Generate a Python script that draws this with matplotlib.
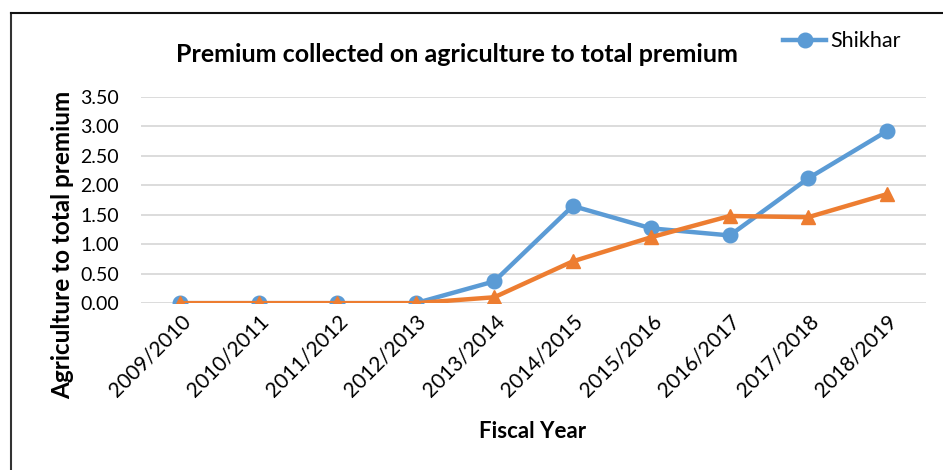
import numpy as np
import matplotlib
matplotlib.use("Agg")
import matplotlib.pyplot as plt
from matplotlib.lines import Line2D

matplotlib.rcParams.update({"font.family": ["Lato", "DejaVu Sans"]})

years = ["2009/2010", "2010/2011", "2011/2012", "2012/2013", "2013/2014",
         "2014/2015", "2015/2016", "2016/2017", "2017/2018", "2018/2019"]
shikhar = [0.0, 0.0, 0.0, 0.0, 0.37, 1.65, 1.27, 1.15, 2.12, 2.92]
other = [0.0, 0.0, 0.0, 0.0, 0.10, 0.71, 1.12, 1.48, 1.46, 1.85]
yticks = [0.0, 0.5, 1.0, 1.5, 2.0, 2.5, 3.0, 3.5]

fig = plt.figure(figsize=(9.43, 4.7), dpi=100)
ax = fig.add_axes([0.1495, 0.355, 0.8325, 0.4385])

x = np.arange(len(years))
ax.plot(x, shikhar, color="#5B9BD5", lw=3.2, marker="o", ms=10.5, label="Shikhar", zorder=3)
ax.plot(x, other, color="#ED7D31", lw=3.2, marker="^", ms=10.5, zorder=4)

ax.set_xlim(-0.5, len(years) - 0.5)
ax.set_ylim(0, 3.5)
ax.set_yticks(yticks, ["%.2f" % v for v in yticks], fontsize=14)
ax.set_xticks(x, years, rotation=45, ha="right", rotation_mode="anchor", fontsize=15)
ax.tick_params(length=0)
ax.tick_params(axis="y", pad=16)
ax.tick_params(axis="x", pad=6)
ax.grid(axis="y", color="#D9D9D9", lw=1.3)
ax.set_axisbelow(True)
for s in ax.spines.values():
    s.set_visible(False)

fig.text(0.485, 0.883, "Premium collected on agriculture to total premium",
         ha="center", va="center", fontsize=18, fontweight="bold")
fig.text(0.066, 0.479, "Agriculture to total premium", rotation=90,
         ha="center", va="center", fontsize=17.5, fontweight="bold")
fig.text(0.565, 0.081, "Fiscal Year", ha="center", va="center",
         fontsize=16, fontweight="bold")

ax.legend(handles=[Line2D([0], [0], color="#5B9BD5", lw=3.2, marker="o", ms=10.5)],
          labels=["Shikhar"], loc="upper left", bbox_to_anchor=(0.81, 0.975),
          bbox_transform=fig.transFigure, frameon=False, fontsize=15.5,
          handlelength=2.0, handletextpad=0.2)

# outer chart border (only left and top edges are visible in the crop)
fig.add_artist(Line2D([11 / 943, 11 / 943], [0, 1 - 13 / 470], color="#333333",
                      lw=1.5, transform=fig.transFigure))
fig.add_artist(Line2D([11 / 943, 1], [1 - 13 / 470, 1 - 13 / 470], color="#111111",
                      lw=1.5, transform=fig.transFigure))

fig.savefig("out.png", dpi=100)
